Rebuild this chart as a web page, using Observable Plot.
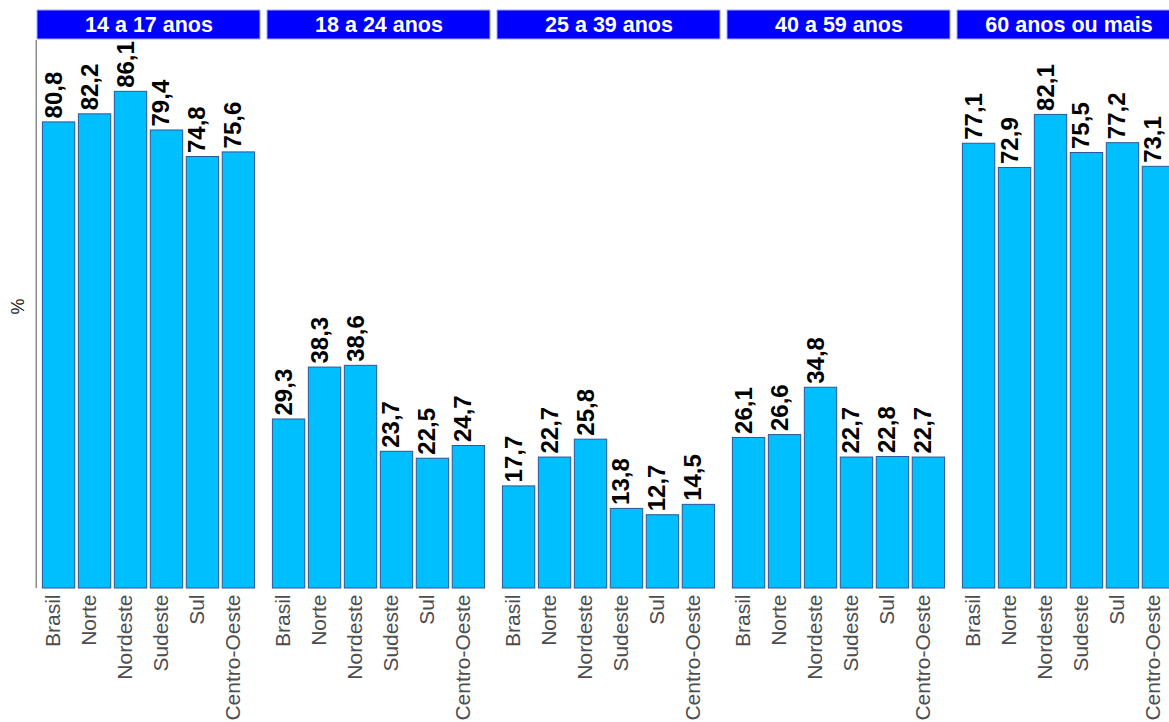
<!DOCTYPE html>
<html><head><meta charset="utf-8">
<script src="https://cdn.jsdelivr.net/npm/d3@7"></script>
<script src="https://cdn.jsdelivr.net/npm/@observablehq/plot@0.6"></script>
<style>
html,body{margin:0;padding:0;background:#fff;overflow:hidden;width:1169px;height:722px;}
#chart{width:1169px;height:722px;overflow:hidden;}
#chart svg{max-width:none !important;}
</style>
</head><body><div id="chart"></div>
<script>
const regions = ["Brasil","Norte","Nordeste","Sudeste","Sul","Centro-Oeste"];
const panels = ["14 a 17 anos","18 a 24 anos","25 a 39 anos","40 a 59 anos","60 anos ou mais"];
const v14a17 = [80.8, 82.2, 86.1, 79.4, 74.8, 75.6];
const v18a24 = [29.3, 38.3, 38.6, 23.7, 22.5, 24.7];
const v25a39 = [17.7, 22.7, 25.8, 13.8, 12.7, 14.5];
const v40a59 = [26.1, 26.6, 34.8, 22.7, 22.8, 22.7];
const v60mais = [77.1, 72.9, 82.1, 75.5, 77.2, 73.1];
const seriesByPanel = [v14a17, v18a24, v25a39, v40a59, v60mais];

const data = panels.flatMap((p, i) => regions.map((r, j) => ({panel: p, region: r, value: seriesByPanel[i][j]})));
const fmt = v => v.toFixed(1).replace(".", ",");

const marginLeft = 37, marginRight = 5, marginTop = 40, marginBottom = 134;
const width = 1185, height = 722;
const fxPadInner = 7 / 230;
const panelW = (width - marginLeft - marginRight) / (panels.length - fxPadInner) * (1 - fxPadInner);
const frameH = height - marginTop - marginBottom;

const chart = Plot.plot({
  width, height, marginLeft, marginRight, marginTop, marginBottom,
  style: {fontFamily: "'Liberation Sans', Arial, sans-serif", background: "#fff", maxWidth: "none"},
  fx: {domain: panels, paddingInner: fxPadInner, paddingOuter: 0, round: false, axis: null, label: null},
  x: {domain: regions, paddingInner: 0.1, paddingOuter: 0.15, round: false, axis: null, label: null},
  y: {domain: [0, 95], axis: null, label: null},
  marks: [
    Plot.barY(data, {fx: "panel", x: "region", y: "value", fill: "#00BFFF", stroke: "#2f5597", strokeWidth: 1}),
    Plot.text(data, {fx: "panel", x: "region", y: "value", text: d => fmt(d.value),
      rotate: -90, textAnchor: "start", lineAnchor: "bottom", dx: 2.5, dy: -4,
      fontWeight: "bold", fontSize: 24, fill: "#000"}),
    Plot.axisX({tickRotate: -90, tickSize: 0, tickPadding: 6, dx: -6, fontSize: 21, fill: "#4d4d4d", label: null}),
    Plot.text(["%"], {fx: () => panels[0], frameAnchor: "left", dx: -19, rotate: -90, fontSize: 18, fill: "#222"}),
    Plot.rect([panels[0]], {fx: d => d, fill: "#8c8c8c", insetLeft: -1.5, insetRight: panelW}),
    Plot.rect(panels, {fx: d => d, fill: "#0000FF", stroke: "#a8a8ff", strokeWidth: 1,
      insetTop: -30, insetBottom: frameH + 1}),
    Plot.text(panels, {fx: d => d, text: d => d, frameAnchor: "top", lineAnchor: "middle", dy: -15,
      fill: "#fff", fontWeight: "bold", fontSize: 21.5})
  ]
});
document.getElementById("chart").appendChild(chart);
</script>
</body></html>
